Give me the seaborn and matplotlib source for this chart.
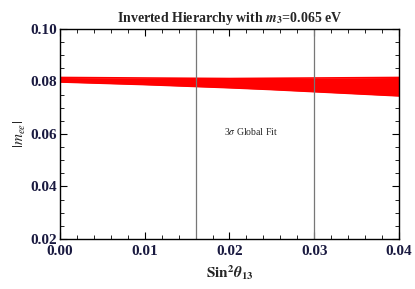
import matplotlib
matplotlib.use("Agg")
import matplotlib.pyplot as plt
import numpy as np
import pandas as pd
import seaborn as sns
from matplotlib.ticker import MultipleLocator

sns.set_style("white")
plt.rcParams['font.family'] = ['Liberation Serif', 'DejaVu Serif']
plt.rcParams['mathtext.fontset'] = 'stix'
plt.rcParams.update({
    'xtick.direction': 'in', 'ytick.direction': 'in',
    'xtick.top': True, 'ytick.right': True,
    'xtick.bottom': True, 'ytick.left': True,
    'xtick.color': 'black', 'ytick.color': 'black',
    'xtick.major.size': 5, 'ytick.major.size': 5,
    'xtick.minor.size': 3, 'ytick.minor.size': 3,
    'xtick.major.width': 0.8, 'ytick.major.width': 0.8,
    'xtick.minor.width': 0.6, 'ytick.minor.width': 0.6,
})

# band edges
s13 = [0.000, 0.005, 0.010, 0.015, 0.020, 0.025, 0.030, 0.035, 0.040]
mee_upper = [0.0815, 0.0814, 0.0813, 0.0812, 0.0811, 0.0812, 0.0813, 0.0814, 0.0815]
mee_lower = [0.0798, 0.0793, 0.0788, 0.0782, 0.0776, 0.0769, 0.0761, 0.0753, 0.0745]
fit_lines = [0.016, 0.030]

df = pd.DataFrame({'s13': s13, 'upper': mee_upper, 'lower': mee_lower})

fig = plt.figure(figsize=(4.15, 2.89), dpi=100)
ax = fig.add_axes([0.1446, 0.173, 0.8168, 0.727])

ax.fill_between(df['s13'], df['lower'], df['upper'], color='red', lw=0)
sns.lineplot(data=df, x='s13', y='upper', color='red', lw=1.2, ax=ax)
sns.lineplot(data=df, x='s13', y='lower', color='red', lw=1.2, ax=ax)

for xv in fit_lines:
    ax.axvline(xv, color='#777777', lw=0.9)
ax.text(0.0225, 0.0608, r'3$\sigma$ Global Fit', fontsize=7, ha='center', va='center')

ax.set_xlim(0, 0.04)
ax.set_ylim(0.02, 0.10)
ax.xaxis.set_major_locator(MultipleLocator(0.01))
ax.xaxis.set_minor_locator(MultipleLocator(0.002))
ax.yaxis.set_major_locator(MultipleLocator(0.02))
ax.yaxis.set_minor_locator(MultipleLocator(0.005))
ax.xaxis.set_major_formatter(plt.FuncFormatter(lambda v, p: f"{v:.2f}"))
ax.yaxis.set_major_formatter(plt.FuncFormatter(lambda v, p: f"{v:.2f}"))
ax.tick_params(which='major', labelsize=11)
ax.tick_params(axis='x', which='major', pad=4)
ax.tick_params(axis='y', which='major', pad=2)
for lab in ax.get_xticklabels() + ax.get_yticklabels():
    lab.set_fontweight('bold')
    lab.set_color('#1a1a40')
for sp in ax.spines.values():
    sp.set_color('black')
    sp.set_linewidth(1.0)

ax.set_xlabel(r'$\mathbf{Sin}^{\mathbf{2}}\boldsymbol{\theta}_{\mathbf{13}}$', fontsize=11, labelpad=4)
ax.set_ylabel(r'$|m_{ee}|$', fontsize=11, fontweight='bold', labelpad=2)
ax.set_title(r'Inverted Hierarchy with $\boldsymbol{m}_{\mathbf{3}}$=0.065 eV',
             fontsize=10, fontweight='bold', pad=5)

fig.savefig('out.png', dpi=100)
